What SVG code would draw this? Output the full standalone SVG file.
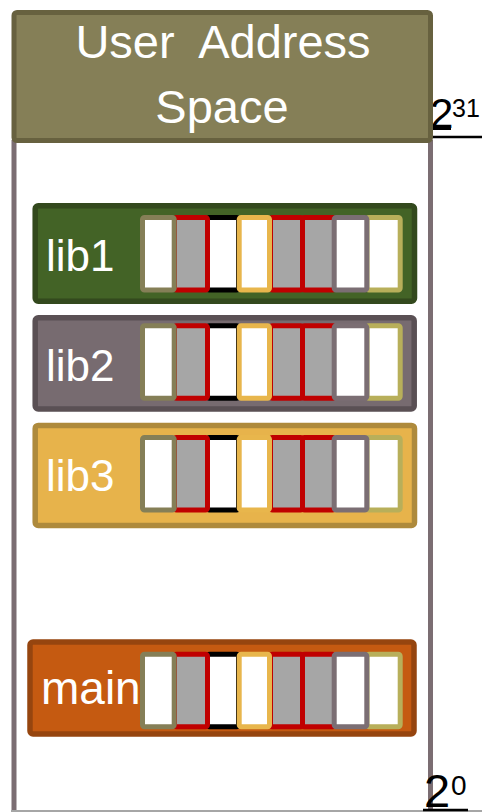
<svg xmlns="http://www.w3.org/2000/svg" width="482" height="812" viewBox="0 0 482 812">
<style>
  .lbl { font-family: "Liberation Sans", Arial, sans-serif; fill: #ffffff; }
  .num { font-family: "Liberation Sans", Arial, sans-serif; fill: #000000; }
  .seg { stroke-width: 5; }
  .w { fill: #ffffff; }
  .g { fill: #a6a6a6; }
  .box { stroke-width: 5.5; }
</style>
<defs>
  <g id="segs">
    <rect class="seg w" x="207.5" y="2.5" width="31" height="72.5" rx="2" stroke="#000000"/>
    <rect class="seg g" x="174.5" y="2.5" width="33" height="72.5" rx="2" stroke="#c00000"/>
    <rect class="seg g" x="302.5" y="2.5" width="32" height="72.5" rx="2" stroke="#c00000"/>
    <rect class="seg g" x="270.5" y="2.5" width="32" height="72.5" rx="2" stroke="#c00000"/>
    <rect class="seg w" x="367" y="2.5" width="33.2" height="72.5" rx="2" stroke="#b8af5a"/>
    <rect class="seg w" x="142.5" y="2.5" width="31.7" height="72.5" rx="2" stroke="#857f57"/>
    <rect class="seg w" x="239.2" y="2.5" width="30.3" height="72.5" rx="2" stroke="#e8b64c"/>
    <rect class="seg w" x="334.2" y="2.5" width="32.6" height="72.5" rx="2" stroke="#7b6e73"/>
  </g>
</defs>

<g id="container">
  <line x1="14" y1="140" x2="14" y2="812" stroke="#7b6d72" stroke-width="5"/>
  <line x1="430.5" y1="140" x2="430.5" y2="812" stroke="#7b6d72" stroke-width="5"/>
  <line x1="11" y1="811" x2="482" y2="811" stroke="#a6a6a6" stroke-width="2"/>
</g>

<g id="label-2-31">
  <text class="num" x="430" y="128" font-size="42">2</text>
  <line x1="432" y1="129" x2="451" y2="129" stroke="#000" stroke-width="2"/>
  <text class="num" x="452" y="117" font-size="25">31</text>
  <line x1="431" y1="137" x2="482" y2="137" stroke="#000" stroke-width="2.5"/>
</g>

<g id="header">
  <rect x="14" y="12.5" width="416.5" height="128" rx="3" fill="#857f57" stroke="#67613f" stroke-width="5"/>
  <text class="lbl" x="223" y="58" font-size="47" text-anchor="middle" style="white-space:pre">User  Address</text>
  <text class="lbl" x="222" y="122.5" font-size="47" text-anchor="middle">Space</text>
</g>

<g id="lib1">
  <rect class="box" x="35.2" y="205.7" width="379.3" height="95.5" rx="3" fill="#436326" stroke="#33491d"/>
  <text class="lbl" x="46" y="270.5" font-size="44">lib1</text>
  <use href="#segs" transform="translate(0,215)"/>
</g>

<g id="lib2">
  <rect class="box" x="35.2" y="317.7" width="379" height="91.3" rx="3" fill="#776b70" stroke="#5a5054"/>
  <text class="lbl" x="46" y="380.5" font-size="44">lib2</text>
  <use href="#segs" transform="translate(0,323.3)"/>
</g>

<g id="lib3">
  <rect class="box" x="35.2" y="425.4" width="379.3" height="100" rx="3" fill="#e7b34b" stroke="#ae8a3c"/>
  <text class="lbl" x="46" y="490.5" font-size="44">lib3</text>
  <use href="#segs" transform="translate(0,435)"/>
</g>

<g id="main">
  <rect class="box" x="30" y="642" width="384" height="92" rx="3" fill="#c55a11" stroke="#96450f"/>
  <text class="lbl" x="41" y="704" font-size="46">main</text>
  <use href="#segs" transform="translate(0,651.7)"/>
</g>

<g id="label-2-0">
  <text class="num" x="424" y="807" font-size="47">2</text>
  <text class="num" x="451" y="795" font-size="28">0</text>
  <line x1="423" y1="810" x2="468" y2="810" stroke="#000" stroke-width="2.5"/>
</g>
</svg>
